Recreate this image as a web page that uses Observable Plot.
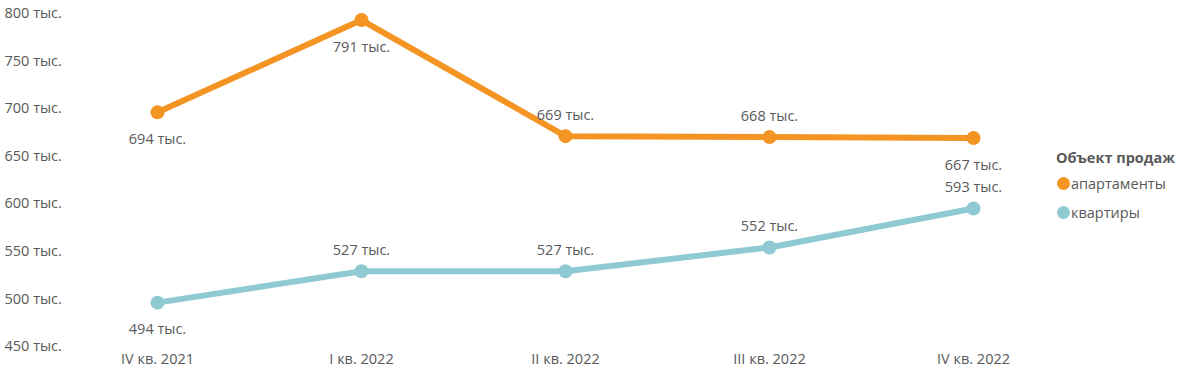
<!DOCTYPE html>
<html>
<head>
<meta charset="utf-8">
<script src="https://cdn.jsdelivr.net/npm/d3@7"></script>
<script src="https://cdn.jsdelivr.net/npm/@observablehq/plot@0.6"></script>
<style>
  html, body { margin: 0; padding: 0; background: #fff; }
  #wrap { position: relative; width: 1177px; height: 378px; font-family: "Open Sans", "Noto Sans", sans-serif; }
  #legend { position: absolute; left: 1056px; top: 148px; color: #595959; font-size: 14.5px; }
  #legend .title { font-weight: bold; margin-bottom: 2px; }
  #legend .item { display: flex; align-items: center; height: 29px; }
  #legend .dot { width: 13px; height: 13px; border-radius: 50%; margin-right: 1px; margin-left: 1px; }
</style>
</head>
<body>
<div id="wrap"><div id="chart"></div><div id="legend"></div></div>
<script>
const quarters = ["IV кв. 2021", "I кв. 2022", "II кв. 2022", "III кв. 2022", "IV кв. 2022"];
const apartments = [694, 791, 669, 668, 667];
const flats = [494, 527, 527, 552, 593];
const apartmentsLabelSide = ["below", "below", "above", "above", "below"];
const flatsLabelSide = ["below", "above", "above", "above", "above"];
const seriesNames = ["апартаменты", "квартиры"];
const seriesColors = ["#F39423", "#8FCAD3"];
const yTicks = [450, 500, 550, 600, 650, 700, 750, 800];

const rows = [];
quarters.forEach((q, i) => {
  rows.push({q, v: apartments[i], s: seriesNames[0], side: apartmentsLabelSide[i]});
  rows.push({q, v: flats[i], s: seriesNames[1], side: flatsLabelSide[i]});
});
const fmt = v => `${v} тыс.`;

const chart = Plot.plot({
  width: 1177,
  height: 378,
  marginLeft: 155,
  marginRight: 203,
  marginTop: 11,
  marginBottom: 34,
  style: {fontFamily: '"Open Sans", "Noto Sans", sans-serif', fontSize: "14.5px", color: "#595959", background: "#fff"},
  x: {type: "point", domain: quarters, padding: 0},
  y: {domain: [450, 800]},
  color: {domain: seriesNames, range: seriesColors},
  marks: [
    Plot.axisY({ticks: yTicks, tickSize: 0, tickPadding: 0, textAnchor: "start", dx: -151, dy: 2, tickFormat: fmt, label: null, fill: "#595959"}),
    Plot.axisX({tickSize: 0, tickPadding: 9, label: null, fill: "#595959"}),
    Plot.line(rows, {x: "q", y: "v", stroke: "s", strokeWidth: 6, strokeLinejoin: "round", strokeLinecap: "round"}),
    Plot.dot(rows, {x: "q", y: "v", fill: "s", r: 7}),
    Plot.text(rows.filter(d => d.side === "above"), {x: "q", y: "v", text: d => fmt(d.v), dy: -21, fill: "#595959"}),
    Plot.text(rows.filter(d => d.side === "below"), {x: "q", y: "v", text: d => fmt(d.v), dy: 27, fill: "#595959"})
  ]
});
document.getElementById("chart").appendChild(chart);

const legend = document.getElementById("legend");
legend.innerHTML = `<div class="title">Объект продаж</div>` +
  seriesNames.map((n, i) => `<div class="item"><span class="dot" style="background:${seriesColors[i]}"></span>${n}</div>`).join("");
</script>
</body>
</html>
